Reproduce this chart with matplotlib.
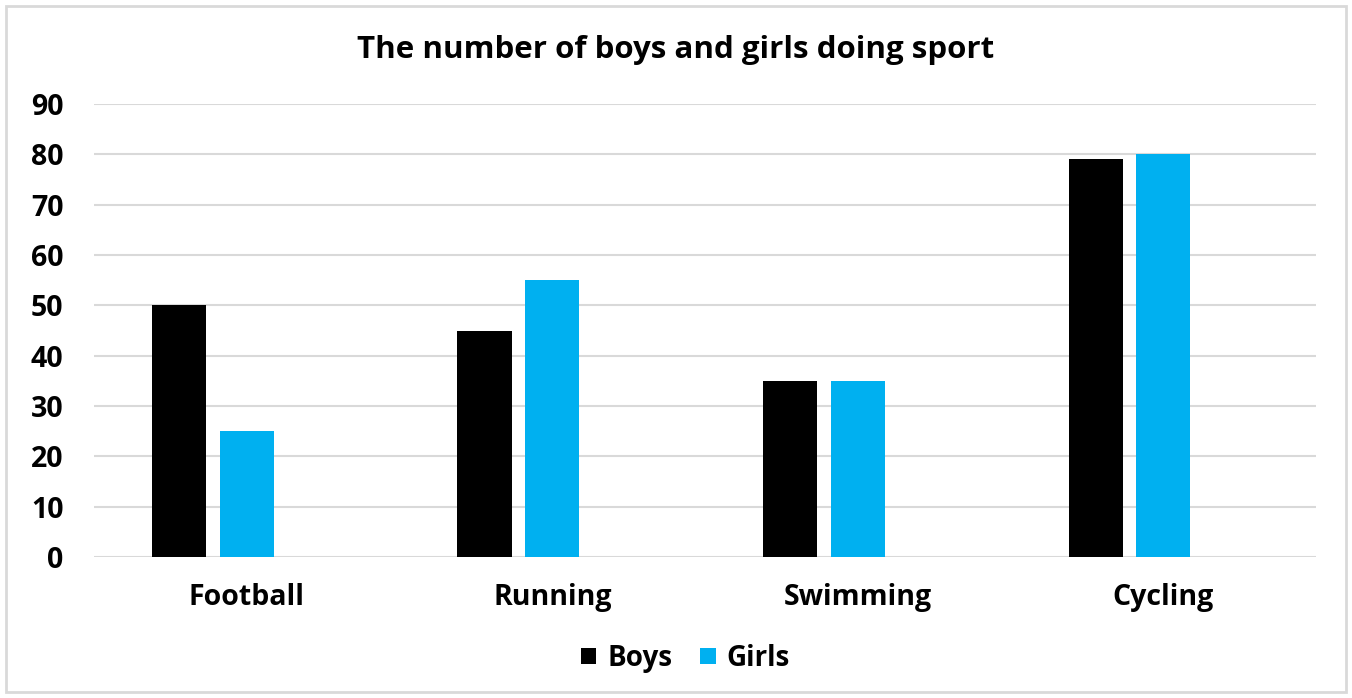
import matplotlib.pyplot as plt
import numpy as np
from matplotlib.patches import Rectangle

plt.rcParams['font.family'] = ['Open Sans', 'DejaVu Sans']
plt.rcParams['font.weight'] = 'bold'

sports = ['Football', 'Running', 'Swimming', 'Cycling']
boys = [50, 45, 35, 79]
girls = [25, 55, 35, 80]

ind = np.arange(len(sports))
width = 0.177
offset = 0.222

fig = plt.figure(figsize=(13.52, 6.98), dpi=100)
ax = fig.add_axes([0.0695, 0.202, 0.904, 0.649])

# light frame around the whole chart
fig.patches.append(Rectangle((0.0045, 0.009), 0.991, 0.982, transform=fig.transFigure,
                             fill=False, edgecolor='#d9d9d9', linewidth=2))

p1 = ax.bar(ind - offset, boys, width=width, color='black', zorder=3)
p2 = ax.bar(ind, girls, width=width, color='#00B0F0', zorder=3)

ax.set_xlim(-0.5, 3.5)
ax.set_ylim(0, 90)
ax.set_yticks(np.arange(0, 91, 10))
ax.set_xticks(ind)
ax.set_xticklabels(sports, fontweight='bold')
for t in ax.get_yticklabels():
    t.set_fontweight('bold')
ax.grid(axis='y', color='#d9d9d9', linewidth=1.5, zorder=0)
for s in ax.spines.values():
    s.set_visible(False)
ax.tick_params(length=0, labelsize=20.5)
ax.tick_params(axis='y', pad=22)
ax.tick_params(axis='x', pad=19)

fig.text(0.5, 0.929, 'The number of boys and girls doing sport', ha='center', va='center',
         fontsize=22.5, fontweight='bold')
fig.legend((p1[0], p2[0]), ('Boys', 'Girls'), loc='center', bbox_to_anchor=(0.507, 0.057),
           ncol=2, frameon=False, prop={'size': 20, 'weight': 'bold'},
           handlelength=0.55, handleheight=0.55, handletextpad=0.4, columnspacing=1.0)

fig.savefig('out.png', dpi=100)
